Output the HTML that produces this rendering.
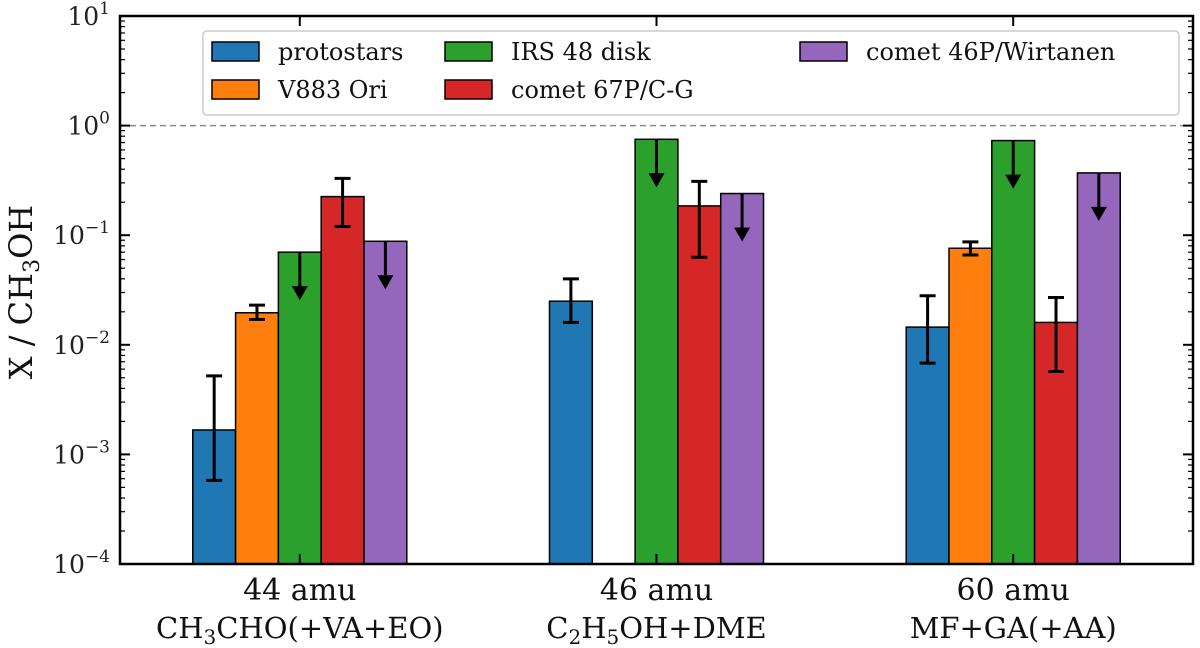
<!DOCTYPE html>
<html><head><meta charset="utf-8"><style>
body{margin:0;background:#fff}
svg{display:block}
svg text{font-family:"DejaVu Serif","Liberation Serif",serif}
</style></head><body>
<svg id="chart" width="1200" height="648" viewBox="0 0 1200 648" xmlns="http://www.w3.org/2000/svg"></svg>
<script>
const categories=["44 amu","46 amu","60 amu"];
const categoryFormulas=[["CH","3","CHO(+VA+EO)"],["C","2","H","5","OH+DME"],["MF+GA(+AA)"]];
const seriesNames=["protostars","V883 Ori","IRS 48 disk","comet 67P/C-G","comet 46P/Wirtanen"];
const seriesColors=["#1f77b4","#ff7f0e","#2ca02c","#d62728","#9467bd"];
const protostarsVals=[0.00167,0.025,0.0145];
const v883Vals=[0.0196,null,0.076];
const irs48Vals=[0.07,0.75,0.73];
const comet67Vals=[0.225,0.185,0.016];
const comet46Vals=[0.088,0.24,0.37];
const protostarsErr=[[0.00058,0.0052],[0.016,0.04],[0.0068,0.028]];
const v883Err=[[0.017,0.023],null,[0.066,0.087]];
const comet67Err=[[0.12,0.33],[0.063,0.31],[0.0057,0.027]];
const upperLimitSeries=[2,4];
const yTickExps=[-4,-3,-2,-1,0,1];

const svg=document.getElementById('chart');
const NS='http://www.w3.org/2000/svg';
const L=120,R=1193,T=16,B=564;
const FONT='"DejaVu Serif","Liberation Serif",serif';
const xScale=c=>L+(c+0.504)/(3.008)*(R-L);
const yScale=v=>B-(Math.log10(v)+4)/5*(B-T);
const barW=0.12*(R-L)/3.008;
function mk(tag,attrs,parent){const e=document.createElementNS(NS,tag);for(const k in attrs)e.setAttribute(k,attrs[k]);if(tag==='text')e.setAttribute('font-family',FONT);(parent||svg).appendChild(e);return e;}

const dl=mk('line',{x1:L,x2:R,y1:yScale(1),y2:yScale(1),stroke:'#888','stroke-width':1.5,'stroke-dasharray':'6,4'});



const allVals=[protostarsVals,v883Vals,irs48Vals,comet67Vals,comet46Vals];
const allErr=[protostarsErr,v883Err,null,comet67Err,null];
for(let s=0;s<5;s++){
  for(let c=0;c<3;c++){
    const v=allVals[s][c]; if(v==null) continue;
    const cx=xScale(c)+(s-2)*barW;
    const y=yScale(v);
    const r=mk('rect',{x:cx-barW/2,y:y,width:barW,height:B-y,fill:seriesColors[s],stroke:'#000','stroke-width':1.5});
    
    
    const e=allErr[s]&&allErr[s][c];
    if(e){
      const g=mk('g',{stroke:'#000','stroke-width':3});
      
      
      const y1=yScale(e[0]),y2=yScale(e[1]);
      mk('line',{x1:cx,x2:cx,y1:y1,y2:y2},g);
      mk('line',{x1:cx-8,x2:cx+8,y1:y1,y2:y1},g);
      mk('line',{x1:cx-8,x2:cx+8,y1:y2,y2:y2},g);
    }
    if(upperLimitSeries.includes(s)){
      const g=mk('g',{});
      
      
      const yt=y+34;
      mk('line',{x1:cx,x2:cx,y1:y,y2:yt,stroke:'#000','stroke-width':3},g);
      mk('polygon',{points:`${cx-8},${yt} ${cx+8},${yt} ${cx},${yt+14}`,fill:'#000'},g);
    }
  }
}

const fr=mk('rect',{x:L,y:T,width:R-L,height:B-T,fill:'none',stroke:'#000','stroke-width':2.5});



yTickExps.forEach(p=>{
  const y=yScale(Math.pow(10,p));
  mk('line',{x1:L,x2:L+10,y1:y,y2:y,stroke:'#000','stroke-width':2});
  mk('line',{x1:R-10,x2:R,y1:y,y2:y,stroke:'#000','stroke-width':2});
  const t=mk('text',{x:110,y:y+9,'text-anchor':'end','font-size':25,fill:'#222'});
  
  
  t.appendChild(document.createTextNode('10'));
  const sp=mk('tspan',{dy:-11,'font-size':17},t); sp.textContent=p<0?'\u2212'+(-p):String(p);
  if(p<1){for(let m=2;m<10;m++){const ym=yScale(m*Math.pow(10,p));
    mk('line',{x1:L,x2:L+5,y1:ym,y2:ym,stroke:'#000','stroke-width':1.2});
    mk('line',{x1:R-5,x2:R,y1:ym,y2:ym,stroke:'#000','stroke-width':1.2});}}
});

categories.forEach((c,i)=>{
  const x=xScale(i);
  mk('line',{x1:x,x2:x,y1:B,y2:B-10,stroke:'#000','stroke-width':2});
  mk('line',{x1:x,x2:x,y1:T,y2:T+10,stroke:'#000','stroke-width':2});
  const t=mk('text',{x:x,y:600,'text-anchor':'middle','font-size':30,fill:'#111'});
  t.textContent=c;
  
  
  const f=mk('text',{x:x,y:638,'text-anchor':'middle','font-size':29,fill:'#111'});
  
  
  categoryFormulas[i].forEach((part,k)=>{
    const ts=mk('tspan',{},f);
    if(k%2==1){ts.setAttribute('font-size',20);ts.setAttribute('dy',6);}
    else if(k>0){ts.setAttribute('dy',-6);}
    ts.textContent=part;
  });
});

const yl=mk('text',{x:0,y:0,transform:'translate(32,292) rotate(-90)','text-anchor':'middle','font-size':32,fill:'#111'});


yl.appendChild(document.createTextNode('X / CH'));
const ys=mk('tspan',{dy:7,'font-size':22},yl);ys.textContent='3';
const ys2=mk('tspan',{dy:-7},yl);ys2.textContent='OH';

const lg=mk('g',{});


mk('rect',{x:203,y:31,width:976,height:84,rx:4,fill:'#fff','fill-opacity':0.85,stroke:'#ccc','stroke-width':1.5},lg);
const colX=[212,445,800];
seriesNames.forEach((n,i)=>{
  const col=Math.floor(i/2),row=i%2;
  const x=colX[col],y=row?80:42;
  const e=mk('g',{},lg);
  
  
  mk('rect',{x:x,y:y,width:47,height:19,fill:seriesColors[i],stroke:'#000','stroke-width':1.5},e);
  const t=mk('text',{x:x+66,y:y+18,'font-size':24,fill:'#111'},e);t.textContent=n;
});
</script>
</body></html>
